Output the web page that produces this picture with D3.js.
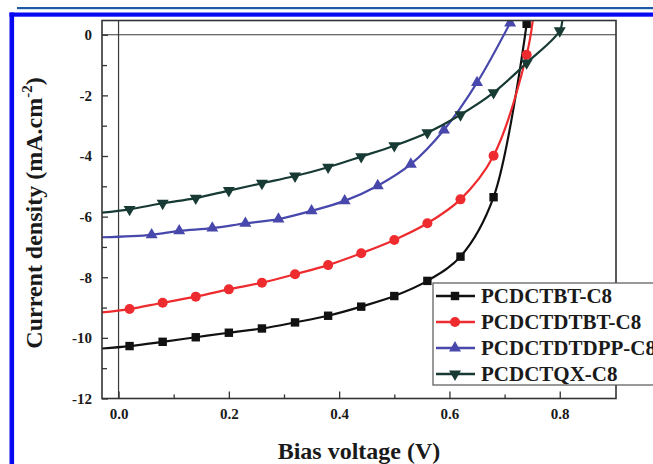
<!DOCTYPE html>
<html>
<head>
<meta charset="utf-8">
<script src="https://cdn.jsdelivr.net/npm/d3@7"></script>
<style>
  body { margin: 0; background: #fff; }
  svg { display: block; }
  text { font-family: "Liberation Serif", "Times New Roman", serif; font-weight: bold; fill: #1a1a1a; }
</style>
</head>
<body>
<div class="chart"></div>
<script>
// data (V in volts, J in mA/cm2)
const voltBlack = [-0.03, 0.02, 0.08, 0.14, 0.20, 0.26, 0.32, 0.38, 0.44, 0.50, 0.56, 0.62, 0.68, 0.74];
const currBlack = [-10.35, -10.27, -10.13, -9.98, -9.83, -9.69, -9.49, -9.27, -8.97, -8.62, -8.12, -7.32, -5.36, 0.36];

const voltRed = [-0.03, 0.02, 0.08, 0.14, 0.20, 0.26, 0.32, 0.38, 0.44, 0.50, 0.56, 0.62, 0.68, 0.74, 0.752];
const currRed = [-9.16, -9.05, -8.84, -8.64, -8.40, -8.18, -7.90, -7.60, -7.21, -6.77, -6.22, -5.43, -3.99, -0.66, 0.6];

const voltBlue = [-0.03, 0.06, 0.11, 0.17, 0.23, 0.29, 0.35, 0.41, 0.47, 0.53, 0.59, 0.65, 0.71];
const currBlue = [-6.68, -6.60, -6.47, -6.38, -6.22, -6.08, -5.81, -5.48, -4.98, -4.27, -3.14, -1.58, 0.39];

const voltGreen = [-0.03, 0.02, 0.08, 0.14, 0.20, 0.26, 0.32, 0.38, 0.44, 0.50, 0.56, 0.62, 0.68, 0.74, 0.80, 0.805];
const currGreen = [-5.87, -5.76, -5.56, -5.39, -5.14, -4.90, -4.66, -4.37, -4.02, -3.66, -3.23, -2.64, -1.91, -0.93, 0.13, 0.6];

const seriesNames = ['PCDCTBT-C8', 'PCDCTDTBT-C8', 'PCDCTDTDPP-C8', 'PCDCTQX-C8'];

const xMajor = [0, 0.2, 0.4, 0.6, 0.8];
const xMinor = [0.1, 0.3, 0.5, 0.7];
const yMajor = [0, -2, -4, -6, -8, -10, -12];
const yMinor = [-1, -3, -5, -7, -9, -11];

// series setup: first point has no marker, `tail` trailing points have none either
const series = [
  {name: seriesNames[0], v: voltBlack, j: currBlack, color: '#111111', shape: 'square', tail: 0},
  {name: seriesNames[1], v: voltRed, j: currRed, color: '#ee2b2e', shape: 'circle', tail: 1},
  {name: seriesNames[2], v: voltBlue, j: currBlue, color: '#4848ac', shape: 'up', tail: 0},
  {name: seriesNames[3], v: voltGreen, j: currGreen, color: '#173b34', shape: 'down', tail: 1}
];

const W = 653, H = 464;
const margin = {top: 20.5, left: 102},
  width = 514,
  height = 378;

const root = d3.select('.chart').append('svg')
  .attr('width', W)
  .attr('height', H);

// journal page frame lines
root.append('rect').attr('x', 17).attr('y', 7).attr('width', W - 17).attr('height', 2.2).attr('fill', '#1d59a5');
root.append('rect').attr('x', 9.5).attr('y', 12.5).attr('width', W - 9.5).attr('height', 4.2).attr('fill', '#0808f2');
root.append('rect').attr('x', 9.5).attr('y', 12.5).attr('width', 4.6).attr('height', H - 12.5).attr('fill', '#0808f2');

const svg = root.append('g')
  .attr('transform', 'translate(' + margin.left + ',' + margin.top + ')');

const xScale = d3.scaleLinear().domain([-0.03, 0.902]).range([0, width]);
const yScale = d3.scaleLinear().domain([-12, 0.47]).range([height, 0]);

svg.append('clipPath').attr('id', 'plot-clip')
  .append('rect').attr('width', width).attr('height', height);

// zero lines
svg.append('line')
  .attr('x1', xScale(0)).attr('x2', xScale(0))
  .attr('y1', 0).attr('y2', height)
  .attr('stroke', '#3a3a3a').attr('stroke-width', 1.2);
svg.append('line')
  .attr('x1', 0).attr('x2', width)
  .attr('y1', yScale(0)).attr('y2', yScale(0))
  .attr('stroke', '#3a3a3a').attr('stroke-width', 1.2);

// axes with inward ticks
const xAxis = g => g
  .attr('transform', `translate(0,${height})`)
  .call(d3.axisBottom(xScale).tickValues(xMajor).tickFormat(d3.format('.1f'))
    .tickSizeInner(-7).tickSizeOuter(0).tickPadding(10))
  .call(g => g.select('.domain').remove());
const xAxisMinor = g => g
  .attr('transform', `translate(0,${height})`)
  .call(d3.axisBottom(xScale).tickValues(xMinor).tickFormat('')
    .tickSizeInner(-4).tickSizeOuter(0))
  .call(g => g.select('.domain').remove());
const yAxis = g => g
  .call(d3.axisLeft(yScale).tickValues(yMajor).tickFormat(d3.format('d'))
    .tickSizeInner(-6).tickSizeOuter(0).tickPadding(10))
  .call(g => g.select('.domain').remove());
const yAxisMinor = g => g
  .call(d3.axisLeft(yScale).tickValues(yMinor).tickFormat('')
    .tickSizeInner(-5).tickSizeOuter(0))
  .call(g => g.select('.domain').remove());

[xAxis, xAxisMinor, yAxis, yAxisMinor].forEach(a => {
  svg.append('g').call(a)
    .call(g => g.selectAll('.tick line').attr('stroke', '#333').attr('stroke-width', 1.3))
    .call(g => g.selectAll('.tick text')
      .attr('font-size', 15)
      .attr('font-family', '"Liberation Serif", "Times New Roman", serif')
      .attr('font-weight', 'bold')
      .attr('fill', '#1a1a1a'));
});
// minus signs as plain hyphens
svg.selectAll('.tick text').text(function() { return d3.select(this).text().replace('\u2212', '-'); });

// curves
const line = d3.line()
  .curve(d3.curveCatmullRom)
  .x(d => xScale(d[0]))
  .y(d => yScale(d[1]));

const plot = svg.append('g').attr('clip-path', 'url(#plot-clip)');

function drawMarker(sel, shape, color) {
  if (shape === 'square') {
    sel.append('rect').attr('x', -4.2).attr('y', -4.2).attr('width', 8.4).attr('height', 8.4).attr('fill', color);
  } else if (shape === 'circle') {
    sel.append('circle').attr('r', 5).attr('fill', color);
  } else {
    sel.append('path')
      .attr('d', d3.symbol(d3.symbolTriangle, 62)())
      .attr('transform', shape === 'down' ? 'rotate(180)' : null)
      .attr('fill', color);
  }
}

series.forEach(s => {
  const pts = s.v.map((v, i) => [v, s.j[i]]);
  plot.append('path')
    .datum(pts)
    .attr('d', line)
    .attr('fill', 'none')
    .attr('stroke', s.color)
    .attr('stroke-width', 2.2)
    .attr('stroke-linejoin', 'round');

  const marks = pts.slice(1, pts.length - s.tail);
  plot.append('g')
    .selectAll('g')
    .data(marks)
    .join('g')
    .attr('transform', d => `translate(${xScale(d[0])},${yScale(d[1])})`)
    .each(function() { drawMarker(d3.select(this), s.shape, s.color); });
});

// frame
svg.append('rect')
  .attr('width', width).attr('height', height)
  .attr('fill', 'none').attr('stroke', '#333').attr('stroke-width', 1.6);

// legend (runs past the right edge, like the source)
const legend = root.append('g').attr('transform', 'translate(433,283)');
legend.append('rect')
  .attr('width', 240).attr('height', 102)
  .attr('fill', '#fff').attr('stroke', '#555').attr('stroke-width', 1.2);

series.forEach((s, i) => {
  const row = legend.append('g').attr('transform', `translate(0,${13 + i * 26})`);
  row.append('line')
    .attr('x1', 3).attr('x2', 42)
    .attr('stroke', s.color).attr('stroke-width', 2.4);
  drawMarker(row.append('g').attr('transform', 'translate(22,0)'), s.shape, s.color);
  row.append('text')
    .attr('x', 48).attr('y', 7)
    .attr('font-size', 21)
    .text(s.name);
});

// axis titles
root.append('text')
  .attr('x', margin.left + width / 2).attr('y', 459)
  .attr('text-anchor', 'middle')
  .attr('font-size', 24)
  .text('Bias voltage (V)');

const yt = root.append('text')
  .attr('transform', 'translate(42,213) rotate(-90)')
  .attr('text-anchor', 'middle')
  .attr('font-size', 24);
yt.append('tspan').text('Current density (mA.cm');
yt.append('tspan').attr('dy', -10).attr('font-size', 15).text('-2');
yt.append('tspan').attr('dy', 10).text(')');
</script>
</body>
</html>
